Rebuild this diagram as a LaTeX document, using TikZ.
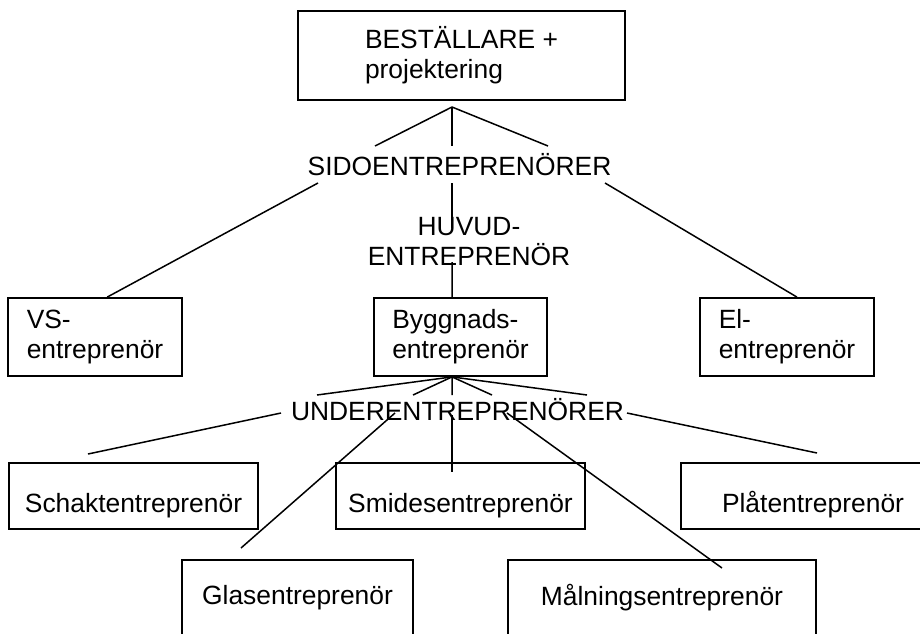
\documentclass[tikz,border=0pt]{standalone}
\usepackage{fontspec}
\setmainfont{Liberation Sans}
\newcommand{\orgfont}{\fontsize{13.2}{15}\selectfont}

\begin{document}
\begin{tikzpicture}[x=0.5pt, y=-0.5pt,
    box/.style={draw, line width=0.9pt, align=left, inner sep=0pt, font=\orgfont},
    lowbox/.style={box, text height=16pt, text depth=0pt},
    tag/.style={inner sep=0pt, font=\orgfont},
    link/.style={line width=0.75pt}]
    \useasboundingbox (0,0) rectangle (920,633);

    % Client
    \node[box, minimum width=163.5pt, minimum height=44.5pt] (bestallare) at (461.5,55.5)
        {BESTÄLLARE +\\projektering};

    % Group labels
    \node[tag, anchor=base] (sido) at (459.5,175) {SIDOENTREPRENÖRER};
    \node[tag, align=center] (huvud) at (469,242) {HUVUD-\\ENTREPRENÖR};
    \node[tag, anchor=base] (under) at (457.5,420) {UNDERENTREPRENÖRER};

    % Side and main contractors
    \node[box, minimum width=87pt, minimum height=39pt] (vs) at (95,337) {VS-\\entreprenör};
    \node[box, minimum width=86.5pt, minimum height=39pt] (bygg) at (460.5,337) {Byggnads-\\entreprenör};
    \node[box, minimum width=87pt, minimum height=39pt] (el) at (787,337) {El-\\entreprenör};

    % Subcontractors
    \node[lowbox, minimum width=124.5pt, minimum height=33pt] (schakt) at (133.5,496) {Schaktentreprenör};
    \node[lowbox, minimum width=124.5pt, minimum height=33pt] (smides) at (460.5,496) {Smidesentreprenör};
    \node[lowbox, minimum width=132pt, minimum height=33pt] (plat) at (813,496) {Plåtentreprenör};
    \node[box, minimum width=115.5pt, minimum height=38pt] (glas) at (297.5,598) {Glasentreprenör};
    \node[box, minimum width=154pt, minimum height=38pt] (malning) at (662,598) {Målningsentreprenör};

    % Links from the client
    \coordinate (topfork) at (452,107);
    \coordinate (sidoL) at (375,146);
    \coordinate (sidoM) at (452,146);
    \coordinate (sidoR) at (548,146);
    \draw[link] (topfork) -- (sidoL);
    \draw[link] (topfork) -- (sidoM);
    \draw[link] (topfork) -- (sidoR);

    % Links to side and main contractors
    \coordinate (sidoBL) at (318,183);
    \coordinate (sidoBM) at (452,183);
    \coordinate (sidoBR) at (605,183);
    \coordinate (huvudT) at (452,228);
    \coordinate (huvudB) at (452,262);
    \draw[link] (sidoBL) -- (vs.73);
    \draw[link] (sidoBM) -- (huvudT);
    \draw[link] (huvudB) -- (bygg.102);
    \draw[link] (sidoBR) -- (el.76);

    % Links from the main contractor
    \coordinate (byggfork) at (bygg.258);
    \coordinate (u1) at (317,395);
    \coordinate (u2) at (413,395);
    \coordinate (u3) at (452,395);
    \coordinate (u4) at (492,395);
    \coordinate (u5) at (587,395);
    \draw[link] (byggfork) -- (u1);
    \draw[link] (byggfork) -- (u2);
    \draw[link] (byggfork) -- (u3);
    \draw[link] (byggfork) -- (u4);
    \draw[link] (byggfork) -- (u5);

    % Links to subcontractors
    \coordinate (d1) at (281,413);
    \coordinate (d2) at (395,413);
    \coordinate (d3) at (452,415);
    \coordinate (d4) at (507,413);
    \coordinate (d5) at (627,413);
    \coordinate (schaktT) at (88,454);
    \coordinate (glasT) at (241,548);
    \coordinate (smidesT) at (452,472);
    \coordinate (malningT) at (722,568);
    \coordinate (platT) at (817,453);
    \draw[link] (d1) -- (schaktT);
    \draw[link] (d2) -- (glasT);
    \draw[link] (d3) -- (smidesT);
    \draw[link] (d4) -- (malningT);
    \draw[link] (d5) -- (platT);
\end{tikzpicture}
\end{document}
